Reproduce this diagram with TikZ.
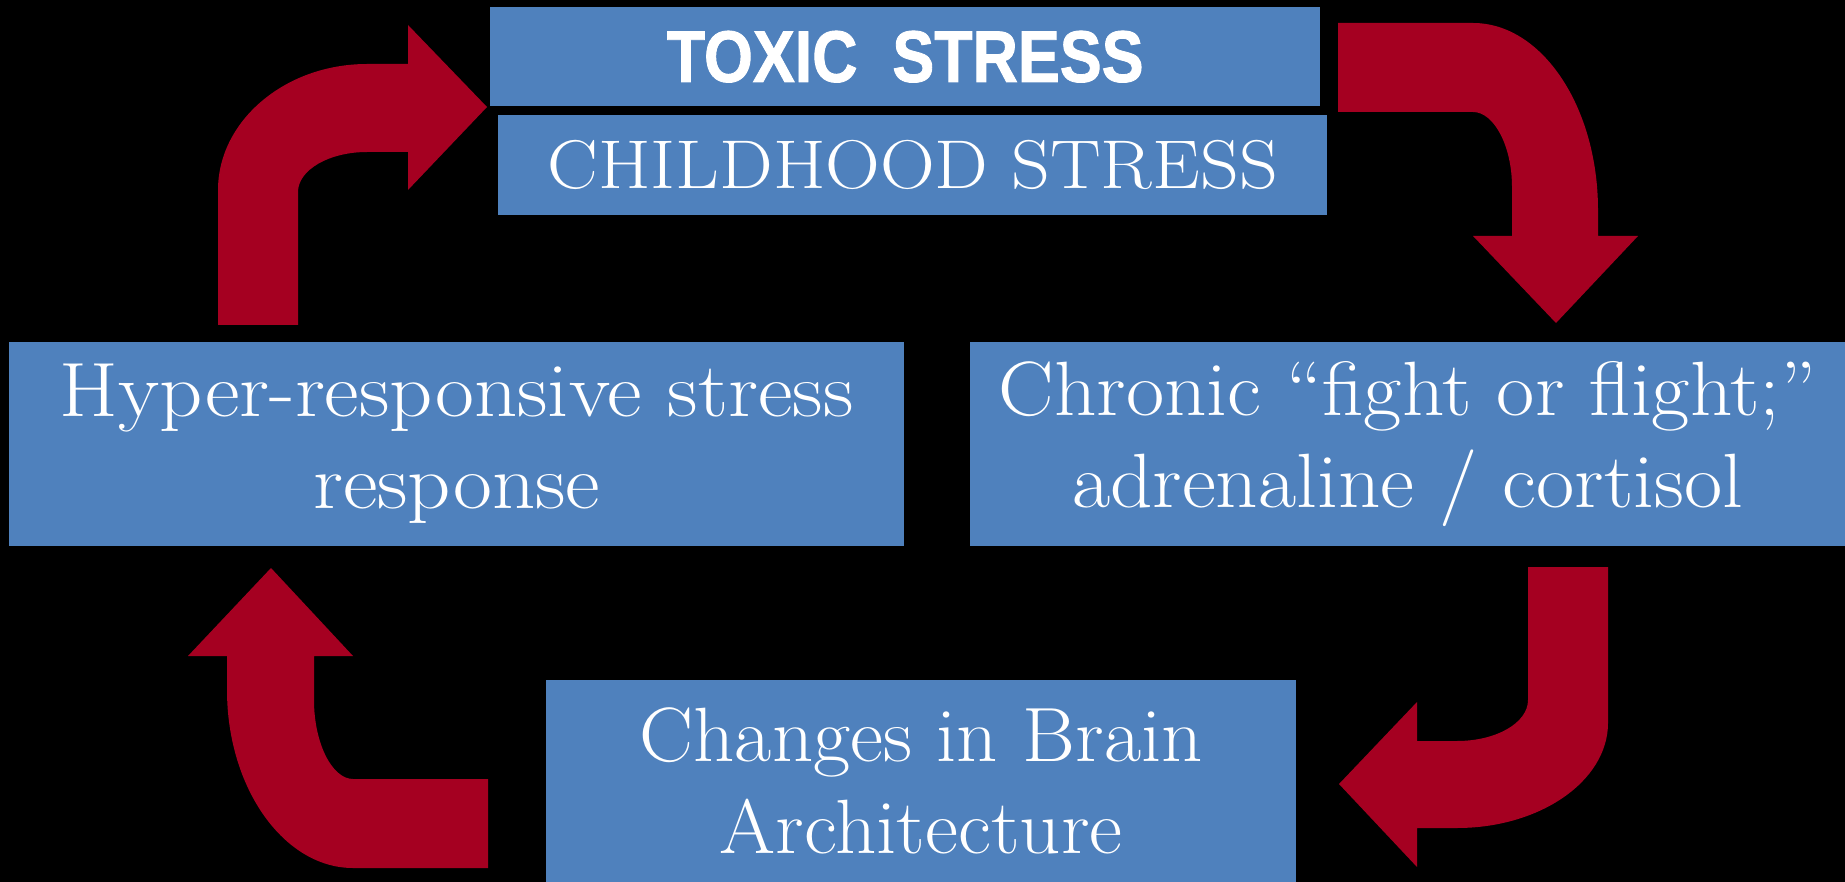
\documentclass[tikz,border=0pt]{standalone}
\usepackage{fontspec}
\setmainfont{Latin Modern Roman}
\newfontfamily\toxicfont{Liberation Sans}[FakeStretch=0.86,FakeBold=1.2]
\newfontfamily\serifHyper{Latin Modern Roman}[FakeStretch=1.10]
\newfontfamily\serifChronic{Latin Modern Roman}[FakeStretch=1.08]
\newfontfamily\serifBrain{Latin Modern Roman}[FakeStretch=1.05]
\newfontfamily\serifChild{Latin Modern Roman}[FakeStretch=1.10]
\definecolor{boxblue}{HTML}{4F81BD}
\definecolor{arrowred}{HTML}{A50021}
\begin{document}
\begin{tikzpicture}[x=1pt,y=-1pt,
  box/.style={fill=boxblue, anchor=north west, inner sep=0pt, text=white, align=center},
  redarrow/.style={fill=arrowred}]
\useasboundingbox[fill=black] (0,0) rectangle (1845,882);
% boxes
\node[box, minimum width=830pt, minimum height=99pt,
      font=\toxicfont\bfseries\fontsize{73}{73}\selectfont] (toxic) at (490,7) {TOXIC\ \ STRESS};
\node[box, minimum width=829pt, minimum height=100pt,
      font=\serifChild\fontsize{69}{69}\selectfont] (child) at (498,115) {CHILDHOOD STRESS};
\node[box, font=\serifHyper\fontsize{77}{92}\selectfont, minimum width=895pt, minimum height=204pt] (hyper) at (9,342)
  {Hyper-responsive stress\\response};
\node[box, font=\serifChronic\fontsize{77}{92}\selectfont, minimum width=875pt, minimum height=204pt] (chronic) at (970,342)
  {Chronic “fight or flight;”\\adrenaline / cortisol};
\node[box, font=\serifBrain\fontsize{77}{92}\selectfont, minimum width=750pt, minimum height=202pt] (brain) at (546,680)
  {Changes in Brain\\Architecture};
% top-left arrow (hyper -> toxic)
\fill[redarrow] (218,325) -- (218,190)
  .. controls (218,121) and (285,64) .. (367,64)
  -- (408,64) -- (408,25) -- (487,107) -- (408,190) -- (408,152) -- (367,152)
  .. controls (329,152) and (298,170) .. (298,192)
  -- (298,325) -- cycle;
% top-right arrow (toxic -> chronic)
\fill[redarrow] (1338,23) -- (1473,23)
  .. controls (1542,23) and (1598,107) .. (1598,210)
  -- (1598,236) -- (1638,236) -- (1556,323) -- (1473,236) -- (1512,236) -- (1512,187)
  .. controls (1512,146) and (1494,112) .. (1473,112)
  -- (1338,112) -- cycle;
% bottom-right arrow (chronic -> brain)
\fill[redarrow] (1528,567) -- (1608,567) -- (1608,723)
  .. controls (1608,781) and (1540,828) .. (1457,828)
  -- (1417,828) -- (1417,867) -- (1339,784) -- (1417,702) -- (1417,741) -- (1457,741)
  .. controls (1496,741) and (1528,723) .. (1528,700)
  -- cycle;
% bottom-left arrow (brain -> hyper)
\fill[redarrow] (488,868) -- (353,868)
  .. controls (284,868) and (227,788) .. (227,690)
  -- (227,656) -- (188,656) -- (271,568) -- (353,656) -- (314,656) -- (314,700)
  .. controls (314,743) and (332,779) .. (353,779)
  -- (488,779) -- cycle;
\end{tikzpicture}
\end{document}
